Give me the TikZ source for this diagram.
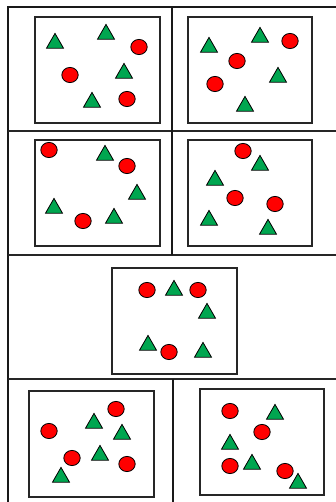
\documentclass[tikz,border=0pt]{standalone}
\usetikzlibrary{calc}
\definecolor{tgreen}{RGB}{0,166,80}
\definecolor{cred}{RGB}{255,0,0}
\tikzset{
  framel/.style={line width=2.2pt,draw=black!90},
  divl/.style={line width=2pt,draw=black!85},
  vdivl/.style={line width=1.4pt,draw=black!90},
  boxl/.style={line width=1.3pt,draw=black!85},
  tri/.pic={\filldraw[fill=tgreen,draw=black,line width=0.8pt] (-8.5,7.2)--(8.5,7.2)--(0,-7.6)--cycle;},
  circ/.pic={\filldraw[fill=cred,draw=black,line width=0.8pt] (0,0) ellipse [x radius=8.2, y radius=7.6];}
}
\begin{document}
\begin{tikzpicture}[x=1pt,y=-1pt]
\useasboundingbox (0,0) rectangle (336,502);
% frame
\coordinate (tl) at (8,7);
\coordinate (tr) at (336,7);
\coordinate (bl) at (8,502);
\draw[framel] (tr) -- (tl) -- (bl);
\draw[divl] (8,131.5) -- (336,131.5);
\draw[divl] (8,255) -- (336,255);
\draw[divl] (8,378.5) -- (336,378.5);
\draw[vdivl] (172,7) -- (172,255);
\draw[vdivl] (173,378.5) -- (173,502);
% boxes
\draw[boxl] (35,17) rectangle (160,123);
\draw[boxl] (188,17) rectangle (312,123);
\draw[boxl] (35,140) rectangle (160,246);
\draw[boxl] (188,140) rectangle (312,246);
\draw[boxl] (112,268) rectangle (237,374);
\draw[boxl] (29,391) rectangle (154,497);
\draw[boxl] (200,389) rectangle (324,495);
% row 1 left
\pic at (55,41) {tri};
\pic at (106,32) {tri};
\pic at (139,47) {circ};
\pic at (70,75) {circ};
\pic at (124,71) {tri};
\pic at (92,100) {tri};
\pic at (127,99) {circ};
% row 1 right
\pic at (209,45) {tri};
\pic at (260,35) {tri};
\pic at (290,41) {circ};
\pic at (237,61) {circ};
\pic at (278,75) {tri};
\pic at (215,84) {circ};
\pic at (245,104) {tri};
% row 2 left
\pic at (49,150) {circ};
\pic at (105,153) {tri};
\pic at (127,166) {circ};
\pic at (137,192) {tri};
\pic at (54,206) {tri};
\pic at (83,221) {circ};
\pic at (114,216) {tri};
% row 2 right
\pic at (243,151) {circ};
\pic at (260,163) {tri};
\pic at (215,178) {tri};
\pic at (235,198) {circ};
\pic at (275,204) {circ};
\pic at (209,218) {tri};
\pic at (268,227) {tri};
% row 3
\pic at (147,290) {circ};
\pic at (174,288) {tri};
\pic at (198,290) {circ};
\pic at (207,311) {tri};
\pic at (148,343) {tri};
\pic at (169,352) {circ};
\pic at (203,350) {tri};
% row 4 left
\pic at (49,431) {circ};
\pic at (94,421) {tri};
\pic at (116,409) {circ};
\pic at (122,432) {tri};
\pic at (72,458) {circ};
\pic at (100,453) {tri};
\pic at (127,464) {circ};
\pic at (61,475) {tri};
% row 4 right
\pic at (230,411) {circ};
\pic at (275,412) {tri};
\pic at (262,432) {circ};
\pic at (230,442) {tri};
\pic at (230,466) {circ};
\pic at (252,462) {tri};
\pic at (285,471) {circ};
\pic at (298,481) {tri};
\end{tikzpicture}
\end{document}
